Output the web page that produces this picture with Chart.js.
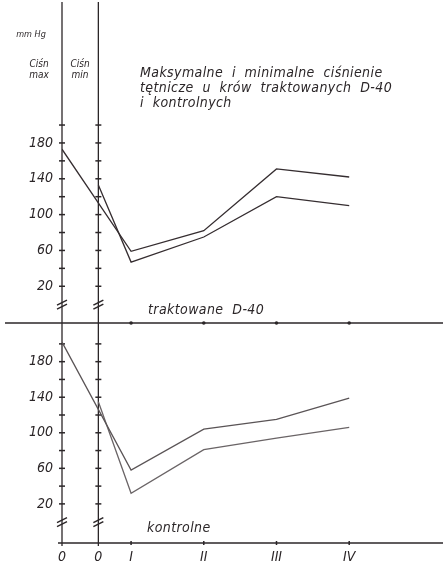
<!DOCTYPE html>
<html>
<head>
<meta charset="utf-8">
<script src="https://cdn.jsdelivr.net/npm/chart.js@4/dist/chart.umd.min.js"></script>
<style>
  html, body { margin: 0; padding: 0; background: #fff; }
  #wrap { width: 443px; height: 567px; }
</style>
</head>
<body>
<div id="wrap"><canvas id="cisnienie"></canvas></div>
<script>
// punkty czasowe: "0" na osi max, "0" na osi min, potem I-IV
const timeLabels = ['0', '0', 'I', 'II', 'III', 'IV'];
const timePos = [0.05, 0.55, 1, 2, 3, 4];

const yTickMarks = [20, 40, 60, 80, 100, 120, 140, 160, 180, 200];
const yTickLabels = [20, 60, 100, 140, 180];

// traktowane D-40 (null = brak punktu)
const maxTreated = [173, null, 59, 82, 151, 142];
const minTreated = [null, 133, 47, 75, 120, 110];

// kontrolne
const maxControl = [202, null, 58, 104, 115, 139];
const minControl = [null, 135, 32, 81, 94, 106];

const FONT = '"DejaVu Sans Condensed", "DejaVu Sans", sans-serif';
const INK = '#2b2628';

function toPoints(values) {
  return values
    .map((v, i) => (v === null ? null : { x: timePos[i], y: v }))
    .filter(p => p !== null);
}

function lineSet(label, values, axis, color) {
  return {
    label: label,
    data: toPoints(values),
    yAxisID: axis,
    borderColor: color,
    borderWidth: 1.3,
    pointRadius: 0,
    tension: 0,
    fill: false
  };
}

function yAxis(min, max, weight) {
  return {
    type: 'linear',
    position: 'left',
    stack: 'panele',
    stackWeight: weight,
    min: min,
    max: max,
    grid: { display: false, drawTicks: false },
    border: { display: false },
    afterBuildTicks: s => { s.ticks = yTickMarks.map(v => ({ value: v })); },
    afterFit: s => { s.width = 62; s.paddingTop = 0; s.paddingBottom = 0; },
    ticks: {
      autoSkip: false,
      padding: 9,
      color: INK,
      font: { family: FONT, size: 14, style: 'italic' },
      callback: v => (yTickLabels.includes(v) ? String(v) : '')
    }
  };
}

// osie, podziałki, przerwy i napisy
const decorations = {
  id: 'decorations',
  beforeDatasetsDraw(chart) {
    const { ctx, scales } = chart;
    const x = scales.x, yT = scales.yTop, yB = scales.yBot;
    const axisX = [x.getPixelForValue(timePos[0]), x.getPixelForValue(timePos[1])];
    const seg = (x1, y1, x2, y2) => { ctx.beginPath(); ctx.moveTo(x1, y1); ctx.lineTo(x2, y2); ctx.stroke(); };

    ctx.save();
    ctx.strokeStyle = INK;
    ctx.fillStyle = INK;
    ctx.lineWidth = 1.3;

    axisX.forEach(ax => seg(ax, 2, ax, yB.bottom + 3));
    seg(5, yB.top, chart.width, yB.top);
    seg(axisX[0] - 4, yB.bottom, chart.width, yB.bottom);

    ctx.lineWidth = 1.5;
    [yT, yB].forEach(s => {
      yTickMarks.forEach(v => {
        const py = s.getPixelForValue(v);
        axisX.forEach(ax => seg(ax - 3, py, ax + 3, py));
      });
      const by = s.getPixelForValue(0);
      axisX.forEach(ax => {
        seg(ax - 5, by + 1, ax + 5, by - 4);
        seg(ax - 5, by + 5, ax + 5, by);
      });
    });

    timePos.slice(2).forEach(v => {
      const px = x.getPixelForValue(v);
      ctx.beginPath(); ctx.arc(px, yB.top, 1.8, 0, Math.PI * 2); ctx.fill();
      seg(px, yB.bottom - 2, px, yB.bottom + 2);
    });
    ctx.restore();
  },
  afterDraw(chart) {
    const { ctx } = chart;
    ctx.save();
    ctx.fillStyle = INK;
    ctx.textBaseline = 'middle';

    ctx.textAlign = 'center';
    ctx.font = 'italic 9px ' + FONT;
    ctx.fillText('mm Hg', 31, 35);
    ctx.font = 'italic 10px ' + FONT;
    ctx.fillText('Ciśn', 39, 64);
    ctx.fillText('max', 39, 75);
    ctx.fillText('Ciśn', 80, 64);
    ctx.fillText('min', 80, 75);

    ctx.textAlign = 'left';
    ctx.letterSpacing = '0.4px';
    ctx.font = 'italic 14px ' + FONT;
    ctx.fillText('Maksymalne  i  minimalne  ciśnienie', 140, 73);
    ctx.fillText('tętnicze  u  krów  traktowanych  D-40', 140, 88);
    ctx.fillText('i  kontrolnych', 140, 103);

    ctx.font = 'italic 14px ' + FONT;
    ctx.fillText('traktowane  D-40', 148, 310);
    ctx.fillText('kontrolne', 147, 528);
    ctx.restore();
  }
};

new Chart(document.getElementById('cisnienie'), {
  type: 'line',
  data: {
    datasets: [
      lineSet('ciśn. max – traktowane', maxTreated, 'yTop', '#352d30'),
      lineSet('ciśn. min – traktowane', minTreated, 'yTop', '#352d30'),
      lineSet('ciśn. max – kontrolne', maxControl, 'yBot', '#5a5456'),
      lineSet('ciśn. min – kontrolne', minControl, 'yBot', '#6a6466')
    ]
  },
  options: {
    responsive: true,
    maintainAspectRatio: false,
    animation: false,
    layout: { padding: { top: 5, right: 0, bottom: 0, left: 0 } },
    plugins: { legend: { display: false }, tooltip: { enabled: false } },
    scales: {
      x: {
        type: 'linear',
        min: 0.05,
        max: 5.29,
        grid: { display: false, drawTicks: false },
        border: { display: false },
        afterBuildTicks: s => { s.ticks = timePos.map(v => ({ value: v })); },
        afterFit: s => { s.height = 24; s.paddingLeft = 0; s.paddingRight = 0; },
        ticks: {
          autoSkip: false,
          maxRotation: 0,
          padding: 6,
          color: INK,
          font: { family: FONT, size: 14, style: 'italic' },
          callback: (v, i) => timeLabels[i]
        }
      },
      // kolejność w stosie: pierwsza oś ląduje na dole
      yBot: yAxis(-24, 223.5, 220),
      yTop: yAxis(-21, 334, 318)
    }
  },
  plugins: [decorations]
});
</script>
</body>
</html>
